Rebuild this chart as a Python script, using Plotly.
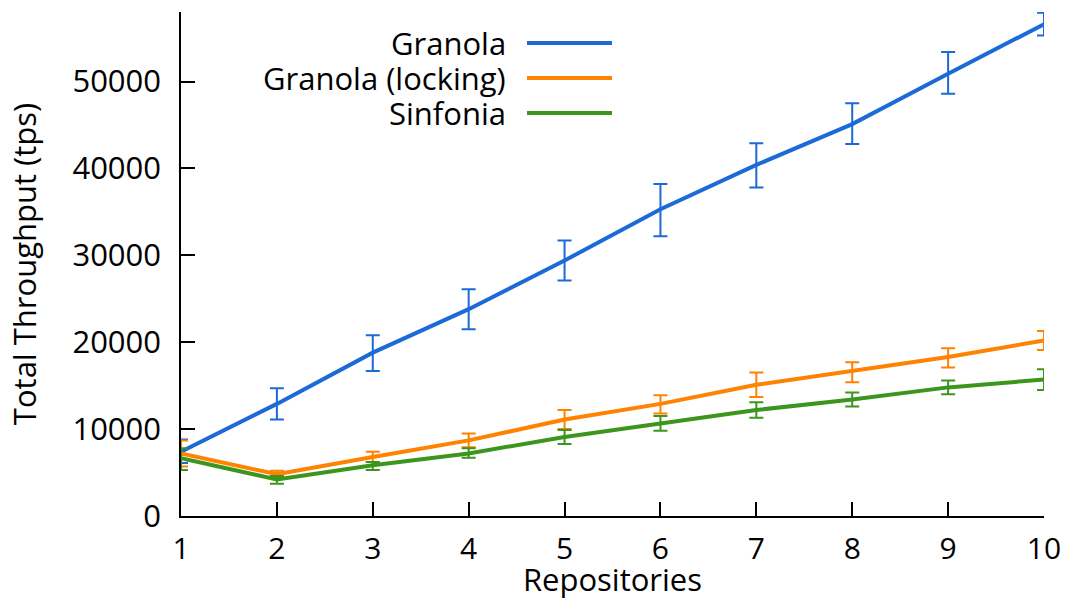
import plotly.graph_objects as go

repos = [1, 2, 3, 4, 5, 6, 7, 8, 9, 10]

granola = [7400, 12900, 18800, 23800, 29400, 35300, 40400, 45100, 50900, 56600]
granola_hi = [8800, 14700, 20800, 26100, 31700, 38200, 42900, 47500, 53400, 57900]
granola_lo = [6100, 11100, 16700, 21500, 27100, 32200, 37800, 42800, 48600, 55300]

locking = [7200, 4800, 6800, 8700, 11100, 12900, 15100, 16700, 18300, 20200]
locking_hi = [8700, 5200, 7400, 9500, 12200, 13900, 16500, 17700, 19300, 21300]
locking_lo = [5700, 4500, 6200, 7900, 10000, 11800, 13700, 15400, 17100, 19100]

sinfonia = [6650, 4200, 5850, 7200, 9100, 10700, 12200, 13400, 14800, 15700]
sinfonia_hi = [7800, 4600, 6200, 7800, 9900, 11500, 13100, 14200, 15600, 16900]
sinfonia_lo = [5300, 3700, 5300, 6700, 8300, 9800, 11300, 12600, 14000, 14500]

series = [
    ("Granola", granola, granola_hi, granola_lo, "#1b6ad6"),
    ("Granola (locking)", locking, locking_hi, locking_lo, "#ff8200"),
    ("Sinfonia", sinfonia, sinfonia_hi, sinfonia_lo, "#3c961e"),
]

FONT = "Open Sans"
W, H = 1068, 600
ML, MR, MT, MB = 181, 24, 12, 84
PW, PH = W - ML - MR, H - MT - MB

fig = go.Figure()
for name, y, hi, lo, col in series:
    fig.add_trace(go.Scatter(
        x=repos, y=y, name=name, mode="lines",
        line=dict(color=col, width=4),
        error_y=dict(type="data", symmetric=False,
                     array=[h - v for h, v in zip(hi, y)],
                     arrayminus=[v - l for v, l in zip(y, lo)],
                     color=col, thickness=2, width=7),
        cliponaxis=False,
        showlegend=False,
    ))

# legend: text on the left (right-aligned), line sample on the right
leg_y = [43, 78, 113]
for i, (name, y, hi, lo, col) in enumerate(series):
    yp = 1 - (leg_y[i] - MT) / PH
    fig.add_annotation(x=(508 - ML) / PW, y=yp, xref="paper", yref="paper",
                       text=name, showarrow=False, xanchor="right", yanchor="middle",
                       font=dict(family=FONT, size=31, color="black"))
    fig.add_shape(type="line", xref="paper", yref="paper",
                  x0=(527 - ML) / PW, x1=(612 - ML) / PW, y0=yp, y1=yp,
                  line=dict(color=col, width=4))

fig.update_layout(
    width=W, height=H,
    margin=dict(l=ML, r=MR, t=MT, b=MB, autoexpand=False),
    paper_bgcolor="white", plot_bgcolor="white",
    font=dict(family=FONT, size=27, color="black"),
    xaxis=dict(range=[1, 10], tickvals=repos, ticks="inside", ticklen=14,
               tickwidth=1.5, tickcolor="black", showline=True, linecolor="black",
               linewidth=1.5, showgrid=False, zeroline=False, automargin=False,
               ticklabelstandoff=5,
               title=dict(text="Repositories", standoff=1,
                          font=dict(family=FONT, size=31, color="black")),
               tickfont=dict(size=30)),
    yaxis=dict(range=[0, 58000], tickvals=[0, 10000, 20000, 30000, 40000, 50000],
               ticktext=["0", "10000", "20000", "30000", "40000", "50000"],
               ticks="inside", ticklen=14, tickwidth=1.5, tickcolor="black",
               showline=True, linecolor="black", linewidth=1.5, showgrid=False,
               zeroline=False, automargin=False, ticklabelstandoff=12,
               title=dict(text="Total Throughput (tps)", standoff=27,
                          font=dict(family=FONT, size=31, color="black")),
               tickfont=dict(size=31)),
)

fig.write_html("out.html")
